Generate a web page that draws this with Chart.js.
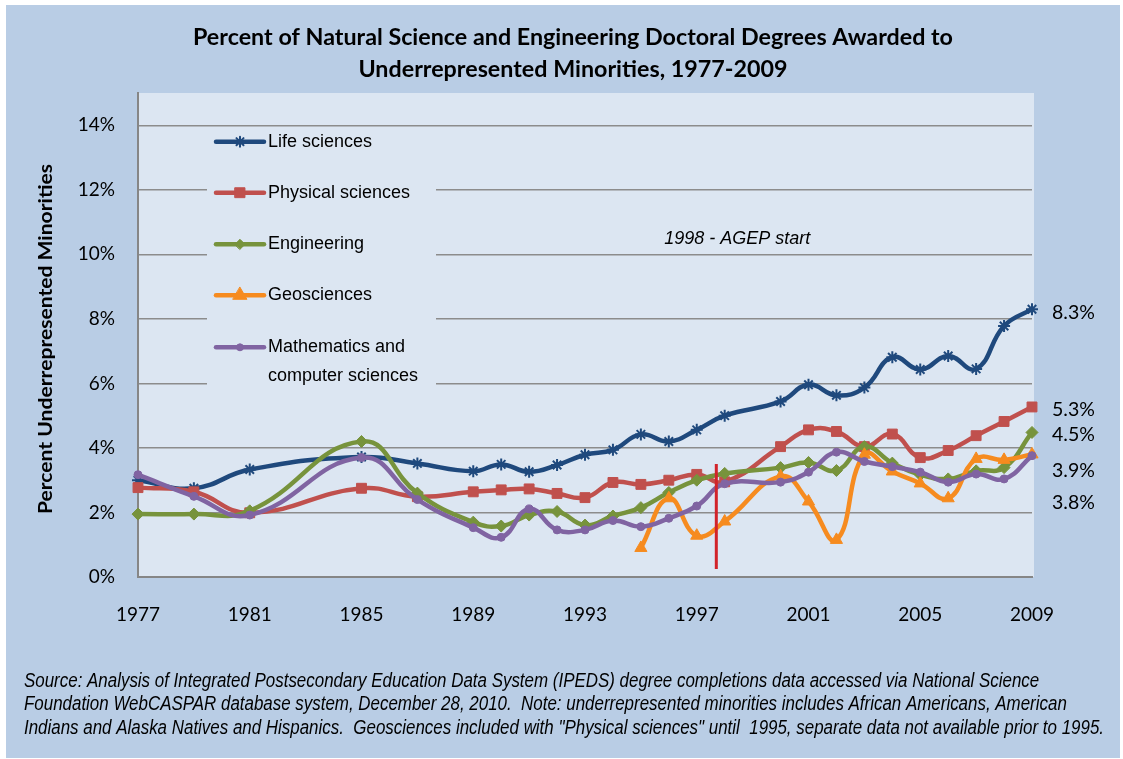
<!DOCTYPE html>
<html>
<head>
<meta charset="utf-8">
<script src="https://cdn.jsdelivr.net/npm/chart.js@4.4.0/dist/chart.umd.min.js"></script>
<style>
  html, body { margin: 0; padding: 0; background: #fff; }
  #wrap { width: 1123px; height: 759px; }
</style>
</head>
<body>
<div id="wrap"><canvas id="chart" width="1123" height="759"></canvas></div>
<script>
// Anos com dados (1999 sem dado; geociências só a partir de 1995)
const yearsMain = [1977, 1979, 1981, 1985, 1987, 1989, 1990, 1991, 1992, 1993, 1994, 1995, 1996, 1997, 1998,
                   2000, 2001, 2002, 2003, 2004, 2005, 2006, 2007, 2008, 2009];
const yearsGeo = [1995, 1996, 1997, 1998, 2000, 2001, 2002, 2003, 2004, 2005, 2006, 2007, 2008, 2009];

// Percentuais por área
const lifeSciences = [3.0, 2.75, 3.33, 3.72, 3.52, 3.28, 3.49, 3.26, 3.47, 3.79, 3.94, 4.42, 4.20, 4.56, 5.0,
                      5.44, 5.96, 5.63, 5.87, 6.81, 6.43, 6.85, 6.45, 7.78, 8.3];
const physicalSciences = [2.77, 2.64, 1.99, 2.75, 2.49, 2.64, 2.70, 2.73, 2.59, 2.46, 2.93, 2.87, 3.0, 3.18, 2.95,
                          4.04, 4.56, 4.51, 4.04, 4.43, 3.70, 3.92, 4.38, 4.82, 5.27];
const engineering = [1.95, 1.95, 2.05, 4.2, 2.6, 1.7, 1.58, 1.92, 2.03, 1.61, 1.89, 2.15, 2.62, 3.0, 3.21,
                     3.39, 3.55, 3.3, 4.04, 3.53, 3.17, 3.04, 3.29, 3.39, 4.48];
const geosciences = [0.9, 2.44, 1.28, 1.72, 3.12, 2.34, 1.15, 3.79, 3.27, 2.9, 2.44, 3.66, 3.63, 3.8];
const mathCompSci = [3.17, 2.5, 1.92, 3.7, 2.4, 1.53, 1.23, 2.11, 1.46, 1.46, 1.75, 1.56, 1.82, 2.2, 2.89,
                     2.94, 3.25, 3.87, 3.58, 3.42, 3.25, 2.94, 3.19, 3.04, 3.76];

// Marco AGEP
const agepYear = 1997.7;
const agepRange = [3.5, 0.25];

// Eixos
const xTicks = [1977, 1981, 1985, 1989, 1993, 1997, 2001, 2005, 2009];
const yTicks = [0, 2, 4, 6, 8, 10, 12, 14];

// Rótulos finais (texto e valor de referência vertical)
const endLabels = ['8.3%', '5.3%', '4.5%', '3.9%', '3.8%'];
const endLabelLevels = [8.2, 5.19, 4.41, 3.3, 2.31];

const seriesNames = ['Life sciences', 'Physical sciences', 'Engineering', 'Geosciences', 'Mathematics and\ncomputer sciences'];
const seriesColors = ['#1f497d', '#c0504d', '#77933c', '#f68b1f', '#8064a2'];

const footnote = [
    'Source: Analysis of Integrated Postsecondary Education Data System (IPEDS) degree completions data accessed via National Science',
    'Foundation WebCASPAR database system, December 28, 2010.  Note: underrepresented minorities includes African Americans, American',
    'Indians and Alaska Natives and Hispanics.  Geosciences included with "Physical sciences" until  1995, separate data not available prior to 1995.'
];

function toPoints(years, values) {
    return years.map((yr, i) => ({ x: yr, y: values[i] }));
}

// texto comprimido horizontalmente
function drawScaled(ctx, text, x, y, font, sx, align) {
    ctx.save();
    ctx.font = font;
    ctx.translate(x, y);
    ctx.scale(sx, 1);
    ctx.textAlign = align;
    ctx.textBaseline = 'middle';
    ctx.fillText(text, 0, 0);
    ctx.restore();
}

const legendMarkers = [
    { pointStyle: 'star', radius: 5, borderWidth: 2 },
    { pointStyle: 'rect', radius: 7, borderWidth: 1 },
    { pointStyle: 'rectRot', radius: 5, borderWidth: 1 },
    { pointStyle: 'triangle', radius: 8, borderWidth: 1 },
    { pointStyle: 'circle', radius: 3.5, borderWidth: 1 }
];

const decor = {
    id: 'decor',
    beforeDraw(chart) {
        const { ctx, chartArea: a } = chart;
        ctx.save();
        ctx.fillStyle = '#ffffff';
        ctx.fillRect(0, 0, chart.width, chart.height);
        ctx.fillStyle = '#b9cde5';
        ctx.fillRect(6, 5, 1114, 753);
        ctx.fillStyle = '#dce6f2';
        ctx.fillRect(a.left, a.top, a.right - a.left + 2, a.bottom - a.top);
        ctx.restore();
    },
    afterDraw(chart) {
        const { ctx, chartArea: a } = chart;
        const xs = chart.scales.x, ys = chart.scales.y;
        ctx.save();
        ctx.fillStyle = '#000';

        // Título
        ctx.font = 'bold 22px Lato';
        const tScale = 760 / ctx.measureText('Percent of Natural Science and Engineering Doctoral Degrees Awarded to').width;
        drawScaled(ctx, 'Percent of Natural Science and Engineering Doctoral Degrees Awarded to', 573, 38, 'bold 22px Lato', tScale, 'center');
        drawScaled(ctx, 'Underrepresented Minorities, 1977-2009', 573, 70, 'bold 22px Lato', tScale, 'center');

        // Título do eixo Y
        const yTitle = 'Percent Underrepresented Minorities';
        ctx.font = 'bold 18px Lato';
        const yScaleTxt = 350 / ctx.measureText(yTitle).width;
        ctx.save();
        ctx.translate(46, 339);
        ctx.rotate(-Math.PI / 2);
        drawScaled(ctx, yTitle, 0, 0, 'bold 18px Lato', yScaleTxt, 'center');
        ctx.restore();

        // Rótulos à direita
        endLabels.forEach((t, i) => {
            drawScaled(ctx, t, a.right + 20, ys.getPixelForValue(endLabelLevels[i]), '19.5px Lato', 1, 'left');
        });

        // Texto AGEP
        drawScaled(ctx, '1998 - AGEP start', xs.getPixelForValue(1998.45), ys.getPixelForValue(10.47),
            'italic 18px "Liberation Sans"', 1, 'center');

        // Legenda
        const lx = a.left + 69, ly = a.top + 38;
        ctx.fillStyle = '#dce6f2';
        ctx.fillRect(lx, ly, 229, 262);
        const rows = [48.7, 99.7, 151.3, 202.3, 254.3];
        seriesNames.forEach((name, i) => {
            const cy = a.top + rows[i];
            ctx.strokeStyle = seriesColors[i];
            ctx.fillStyle = seriesColors[i];
            ctx.lineWidth = 4.5;
            ctx.lineCap = 'round';
            ctx.beginPath();
            ctx.moveTo(lx + 9, cy);
            ctx.lineTo(lx + 57, cy);
            ctx.stroke();
            ctx.lineWidth = legendMarkers[i].borderWidth;
            Chart.helpers.drawPoint(ctx, Object.assign({ rotation: 0 }, legendMarkers[i]), lx + 33, cy);
            ctx.fillStyle = '#000';
            name.split('\n').forEach((ln, k) => {
                drawScaled(ctx, ln, lx + 61, cy + k * 28.4, '18px "Liberation Sans"', 1, 'left');
            });
        });

        // Nota de rodapé
        ctx.font = 'italic 20px "Liberation Sans"';
        const fScale = 1080 / ctx.measureText(footnote[2]).width;
        ctx.fillStyle = '#000';
        footnote.forEach((ln, i) => {
            ctx.save();
            ctx.font = 'italic 20px "Liberation Sans"';
            ctx.translate(24, 686.5 + i * 23.5);
            ctx.scale(fScale, 1);
            ctx.textBaseline = 'alphabetic';
            ctx.textAlign = 'left';
            ctx.fillText(ln, 0, 0);
            ctx.restore();
        });
        ctx.restore();
    }
};

function series(label, pts, color, style, radius, bw, order) {
    return {
        label: label,
        data: pts,
        borderColor: color,
        backgroundColor: color,
        borderWidth: 4.5,
        tension: 0.45,
        pointStyle: style,
        pointRadius: radius,
        pointBorderWidth: bw,
        pointBackgroundColor: color,
        pointBorderColor: color,
        order: order,
        clip: false
    };
}

const ctx = document.getElementById('chart').getContext('2d');
new Chart(ctx, {
    type: 'line',
    data: {
        datasets: [
            series(seriesNames[0], toPoints(yearsMain, lifeSciences), seriesColors[0], 'star', 6, 2, 5),
            series(seriesNames[1], toPoints(yearsMain, physicalSciences), seriesColors[1], 'rect', 7, 1, 4),
            series(seriesNames[2], toPoints(yearsMain, engineering), seriesColors[2], 'rectRot', 6, 1, 3),
            series(seriesNames[3], toPoints(yearsGeo, geosciences), seriesColors[3], 'triangle', 7, 1, 2),
            series(seriesNames[4], toPoints(yearsMain, mathCompSci), seriesColors[4], 'circle', 4, 1, 1),
            {
                label: 'AGEP',
                data: agepRange.map(v => ({ x: agepYear, y: v })),
                borderColor: '#d2232a',
                borderWidth: 3,
                pointRadius: 0,
                tension: 0,
                order: 0
            }
        ]
    },
    options: {
        responsive: false,
        animation: false,
        layout: { padding: { left: 0, top: 93, right: 91, bottom: 0 } },
        plugins: {
            legend: { display: false },
            title: { display: false },
            tooltip: { enabled: false }
        },
        scales: {
            x: {
                type: 'linear',
                min: 1977,
                max: 2009,
                afterFit: s => { s.height = 182; },
                afterBuildTicks: s => { s.ticks = xTicks.map(v => ({ value: v })); },
                grid: { display: false, drawTicks: false },
                border: { display: true, color: '#868686', width: 2 },
                ticks: {
                    padding: 26,
                    color: '#000',
                    font: { family: 'Lato', size: 19 },
                    callback: v => String(v)
                }
            },
            y: {
                min: 0,
                max: 15,
                afterFit: s => { s.width = 138; },
                afterBuildTicks: s => { s.ticks = yTicks.map(v => ({ value: v })); },
                grid: { color: '#8c8c8c', lineWidth: 1.5, drawTicks: false },
                border: { display: true, color: '#868686', width: 2 },
                ticks: {
                    padding: 23,
                    color: '#000',
                    font: { family: 'Lato', size: 19 },
                    callback: v => v + '%'
                }
            }
        }
    },
    plugins: [decor]
});
</script>
</body>
</html>
